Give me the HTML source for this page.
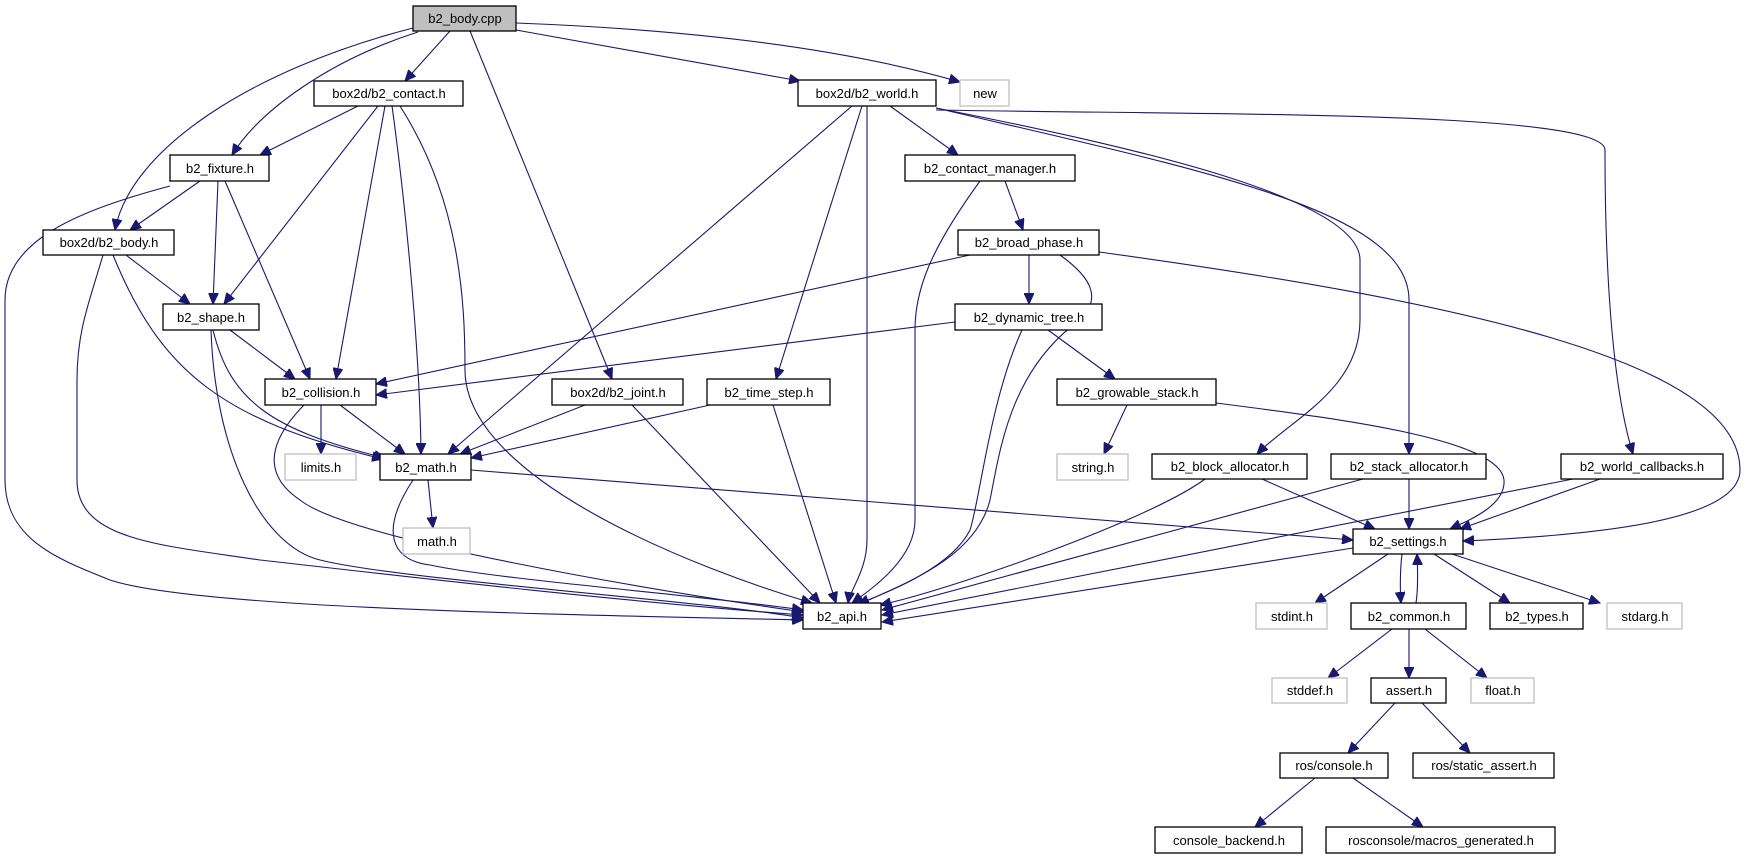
<!DOCTYPE html>
<html><head><meta charset="utf-8"><style>
html,body{margin:0;padding:0;background:#fff;}
svg{display:block;}
text{font-family:"Liberation Sans",sans-serif;font-size:13px;text-anchor:middle;fill:#000;}
.n{fill:#fff;stroke:#000;stroke-width:1.3;}
.g{fill:#fff;stroke:#bfbfbf;stroke-width:1.3;}
.e{fill:none;stroke:#191970;stroke-width:1.1;marker-end:url(#a);}
</style></head><body>
<svg width="1746" height="859" viewBox="0 0 1746 859" xmlns="http://www.w3.org/2000/svg">
<defs><marker id="a" markerUnits="userSpaceOnUse" markerWidth="12" markerHeight="10" refX="11" refY="5" orient="auto"><path d="M0,0 L11,5 L0,10 z" fill="#191970" stroke="#191970"/></marker></defs>
<g>
<path class="e" d="M450,31 L405,81"/>
<path class="e" d="M418,32 C330,60 260,110 232,155"/>
<path class="e" d="M413,28 C250,70 130,150 115,230"/>
<path class="e" d="M470,31 L612,379"/>
<path class="e" d="M516,30 L800,81"/>
<path class="e" d="M516,23 C700,30 850,50 960,82"/>
<path class="e" d="M358,106 L260,155"/>
<path class="e" d="M378,106 L224,304"/>
<path class="e" d="M385,106 L336,379"/>
<path class="e" d="M392,106 C405,200 420,350 421,454"/>
<path class="e" d="M400,106 C460,200 465,300 465,370 C465,480 700,570 812,603"/>
<path class="e" d="M200,181 L130,230"/>
<path class="e" d="M218,181 L213,304"/>
<path class="e" d="M225,181 L310,379"/>
<path class="e" d="M170,186 C80,210 5,240 5,300 L5,480 C5,540 60,560 110,580 C200,610 600,615 803,620"/>
<path class="e" d="M126,255 L190,304"/>
<path class="e" d="M113,255 C160,370 220,420 383,459"/>
<path class="e" d="M103,255 C90,300 77,330 77,380 L77,480 C77,540 160,545 260,560 C350,570 600,600 803,615"/>
<path class="e" d="M230,330 L295,379"/>
<path class="e" d="M213,330 C230,400 270,430 385,458"/>
<path class="e" d="M211,330 C215,450 260,545 320,560 C400,580 700,600 803,618"/>
<path class="e" d="M321,405 L321,454"/>
<path class="e" d="M340,405 L405,454"/>
<path class="e" d="M304,405 C260,450 270,480 300,500 C350,540 650,590 803,612"/>
<path class="e" d="M428,480 L433,528"/>
<path class="e" d="M471,470 L1353,540"/>
<path class="e" d="M413,480 C380,530 390,560 430,565 C500,580 700,595 803,610"/>
<path class="e" d="M585,405 L460,454"/>
<path class="e" d="M632,405 L820,603"/>
<path class="e" d="M710,405 L471,458"/>
<path class="e" d="M773,405 L836,603"/>
<path class="e" d="M852,106 L448,454"/>
<path class="e" d="M862,106 L776,379"/>
<path class="e" d="M867,106 L867,540 C867,570 850,590 848,603"/>
<path class="e" d="M890,106 L958,155"/>
<path class="e" d="M936,108 C1150,150 1360,200 1360,260 L1360,320 C1360,390 1290,420 1257,454"/>
<path class="e" d="M936,108 C1200,170 1409,210 1409,300 L1409,454"/>
<path class="e" d="M936,110 C1200,115 1605,110 1605,150 C1605,250 1610,380 1633,454"/>
<path class="e" d="M1005,181 L1023,230"/>
<path class="e" d="M980,181 C930,250 915,290 915,330 L915,520 C915,560 870,590 852,603"/>
<path class="e" d="M970,255 L376,384"/>
<path class="e" d="M1029,255 L1029,304"/>
<path class="e" d="M1060,255 C1095,280 1100,300 1080,320 C1010,370 1000,450 990,500 C975,560 900,585 858,605"/>
<path class="e" d="M1099,252 C1450,300 1740,360 1740,470 C1740,520 1600,535 1463,541"/>
<path class="e" d="M955,322 L376,395"/>
<path class="e" d="M1048,330 L1115,379"/>
<path class="e" d="M1022,330 C990,400 980,500 970,530 C950,570 880,595 858,604"/>
<path class="e" d="M1127,405 L1104,454"/>
<path class="e" d="M1216,403 C1350,420 1500,440 1504,480 C1506,505 1470,520 1450,529"/>
<path class="e" d="M1262,479 L1375,529"/>
<path class="e" d="M1205,479 C1150,520 950,590 880,605"/>
<path class="e" d="M1409,479 L1409,529"/>
<path class="e" d="M1363,479 L882,610"/>
<path class="e" d="M1600,479 L1460,529"/>
<path class="e" d="M1573,479 L882,615"/>
<path class="e" d="M1353,548 L882,622"/>
<path class="e" d="M1388,554 L1315,603"/>
<path class="e" d="M1402,554 C1400,570 1400,590 1401,603"/>
<path class="e" d="M1416,603 C1418,590 1418,575 1417,554"/>
<path class="e" d="M1434,554 L1510,603"/>
<path class="e" d="M1452,554 L1600,603"/>
<path class="e" d="M1392,629 L1328,678"/>
<path class="e" d="M1409,629 L1409,678"/>
<path class="e" d="M1425,629 L1487,678"/>
<path class="e" d="M1395,703 L1348,753"/>
<path class="e" d="M1422,703 L1470,753"/>
<path class="e" d="M1315,778 L1255,827"/>
<path class="e" d="M1353,778 L1423,827"/>
</g>
<g>
<rect x="413" y="6" width="103" height="25" fill="#bfbfbf" stroke="#000" stroke-width="1.3"/><text x="465" y="23">b2_body.cpp</text>
<rect class="n" x="314" y="81" width="149" height="25"/><text x="389" y="98">box2d/b2_contact.h</text>
<rect class="n" x="170" y="155" width="99" height="26"/><text x="220" y="173">b2_fixture.h</text>
<rect class="n" x="43" y="230" width="131" height="25"/><text x="109" y="247">box2d/b2_body.h</text>
<rect class="n" x="798" y="80" width="138" height="26"/><text x="867" y="98">box2d/b2_world.h</text>
<rect class="g" x="960" y="80" width="49" height="26"/><text x="985" y="98">new</text>
<rect class="n" x="905" y="155" width="170" height="26"/><text x="990" y="173">b2_contact_manager.h</text>
<rect class="n" x="958" y="230" width="141" height="25"/><text x="1029" y="247">b2_broad_phase.h</text>
<rect class="n" x="163" y="304" width="96" height="26"/><text x="211" y="322">b2_shape.h</text>
<rect class="n" x="955" y="304" width="147" height="26"/><text x="1029" y="322">b2_dynamic_tree.h</text>
<rect class="n" x="265" y="379" width="111" height="26"/><text x="321" y="397">b2_collision.h</text>
<rect class="n" x="552" y="379" width="131" height="26"/><text x="618" y="397">box2d/b2_joint.h</text>
<rect class="n" x="707" y="379" width="123" height="26"/><text x="769" y="397">b2_time_step.h</text>
<rect class="n" x="1057" y="379" width="159" height="26"/><text x="1137" y="397">b2_growable_stack.h</text>
<rect class="g" x="285" y="454" width="71" height="26"/><text x="321" y="472">limits.h</text>
<rect class="n" x="380" y="454" width="91" height="26"/><text x="426" y="472">b2_math.h</text>
<rect class="g" x="1057" y="454" width="71" height="26"/><text x="1093" y="472">string.h</text>
<rect class="n" x="1152" y="454" width="155" height="25"/><text x="1230" y="471">b2_block_allocator.h</text>
<rect class="n" x="1331" y="454" width="155" height="25"/><text x="1409" y="471">b2_stack_allocator.h</text>
<rect class="n" x="1561" y="454" width="162" height="25"/><text x="1642" y="471">b2_world_callbacks.h</text>
<rect class="g" x="403" y="528" width="67" height="26"/><text x="437" y="546">math.h</text>
<rect class="n" x="1353" y="529" width="110" height="25"/><text x="1408" y="546">b2_settings.h</text>
<rect class="n" x="803" y="603" width="78" height="26"/><text x="842" y="621">b2_api.h</text>
<rect class="g" x="1256" y="603" width="71" height="26"/><text x="1292" y="621">stdint.h</text>
<rect class="n" x="1351" y="603" width="115" height="26"/><text x="1409" y="621">b2_common.h</text>
<rect class="n" x="1490" y="603" width="93" height="26"/><text x="1537" y="621">b2_types.h</text>
<rect class="g" x="1607" y="603" width="75" height="26"/><text x="1645" y="621">stdarg.h</text>
<rect class="g" x="1272" y="678" width="75" height="25"/><text x="1310" y="695">stddef.h</text>
<rect class="n" x="1371" y="678" width="75" height="25"/><text x="1409" y="695">assert.h</text>
<rect class="g" x="1471" y="678" width="63" height="25"/><text x="1503" y="695">float.h</text>
<rect class="n" x="1280" y="753" width="108" height="25"/><text x="1334" y="770">ros/console.h</text>
<rect class="n" x="1413" y="753" width="141" height="25"/><text x="1484" y="770">ros/static_assert.h</text>
<rect class="n" x="1155" y="827" width="147" height="26"/><text x="1229" y="845">console_backend.h</text>
<rect class="n" x="1326" y="827" width="229" height="26"/><text x="1441" y="845">rosconsole/macros_generated.h</text>
</g>
</svg>
</body></html>
